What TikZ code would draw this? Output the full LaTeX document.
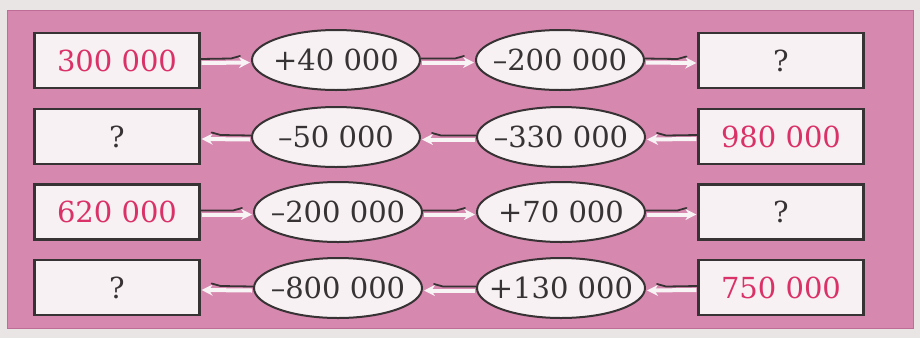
\documentclass[tikz,border=0pt]{standalone}
\usepackage{fontspec}
\setmainfont{DejaVu Serif}
\usetikzlibrary{shapes.geometric,arrows.meta,calc}
\definecolor{paper}{RGB}{234,229,229}
\definecolor{panel}{RGB}{214,136,174}
\definecolor{panelEdge}{RGB}{190,110,150}
\definecolor{boxfill}{RGB}{247,241,243}
\definecolor{ink}{RGB}{55,50,52}
\definecolor{redtxt}{RGB}{218,50,104}
\definecolor{arrw}{RGB}{248,244,245}
\tikzset{
  txt/.style={font=\fontsize{29}{31}\selectfont, text=ink},
  rbox/.style={txt, draw=ink, line width=2.2pt, fill=boxfill, minimum width=165pt, minimum height=55pt, inner sep=0pt},
  obox/.style={txt, ellipse, draw=ink, line width=2pt, fill=boxfill, minimum width=168pt, minimum height=60pt, inner xsep=-14pt, inner ysep=0pt},
  given/.style={text=redtxt},
  wline/.style={draw=arrw, line width=4pt, -{Stealth[length=11pt,width=11pt,fill=arrw]}},
  dline/.style={draw=ink, line width=1.8pt, line cap=round, line join=round}
}
\newcommand{\rarr}[2]{%
  \draw[wline] ($(#1.east)+(1,2.5)$) -- ($(#2.west)+(-1,2.5)$);
  \draw[dline] ($(#1.east)+(0,-1.5)$) -- ($(#2.west)+(-20,-1.5)$) -- ($(#2.west)+(-11,-4)$);
}
\newcommand{\larr}[2]{%
  \draw[wline] ($(#1.west)+(-1,2.5)$) -- ($(#2.east)+(1,2.5)$);
  \draw[dline] ($(#1.west)+(0,-1.5)$) -- ($(#2.east)+(20,-1.5)$) -- ($(#2.east)+(11,-4)$);
}
\begin{document}
\begin{tikzpicture}[x=1pt,y=-1pt]
\useasboundingbox (0,0) rectangle (920,338);
\fill[paper] (0,0) rectangle (920,338);
\fill[panel, draw=panelEdge, line width=1pt] (7,10) rectangle (913,328);
% row 1
\node[rbox, given] (a1) at (117,60.5) {300 000};
\node[obox] (b1) at (336,60) {+40 000};
\node[obox] (c1) at (560,60) {–200 000};
\node[rbox] (d1) at (781,60.5) {?};
\rarr{a1}{b1}\rarr{b1}{c1}\rarr{c1}{d1}
% row 2
\node[rbox] (a2) at (117,136.5) {?};
\node[obox] (b2) at (336,137) {–50 000};
\node[obox] (c2) at (561,137) {–330 000};
\node[rbox, given] (d2) at (781,136.5) {980 000};
\larr{d2}{c2}\larr{c2}{b2}\larr{b2}{a2}
% row 3
\node[rbox, given] (a3) at (117,212) {620 000};
\node[obox] (b3) at (338,212) {–200 000};
\node[obox] (c3) at (561,212) {+70 000};
\node[rbox] (d3) at (781,212) {?};
\rarr{a3}{b3}\rarr{b3}{c3}\rarr{c3}{d3}
% row 4
\node[rbox] (a4) at (117,287.5) {?};
\node[obox] (b4) at (338,288) {–800 000};
\node[obox] (c4) at (561,288) {+130 000};
\node[rbox, given] (d4) at (781,287.5) {750 000};
\larr{d4}{c4}\larr{c4}{b4}\larr{b4}{a4}
\end{tikzpicture}
\end{document}
